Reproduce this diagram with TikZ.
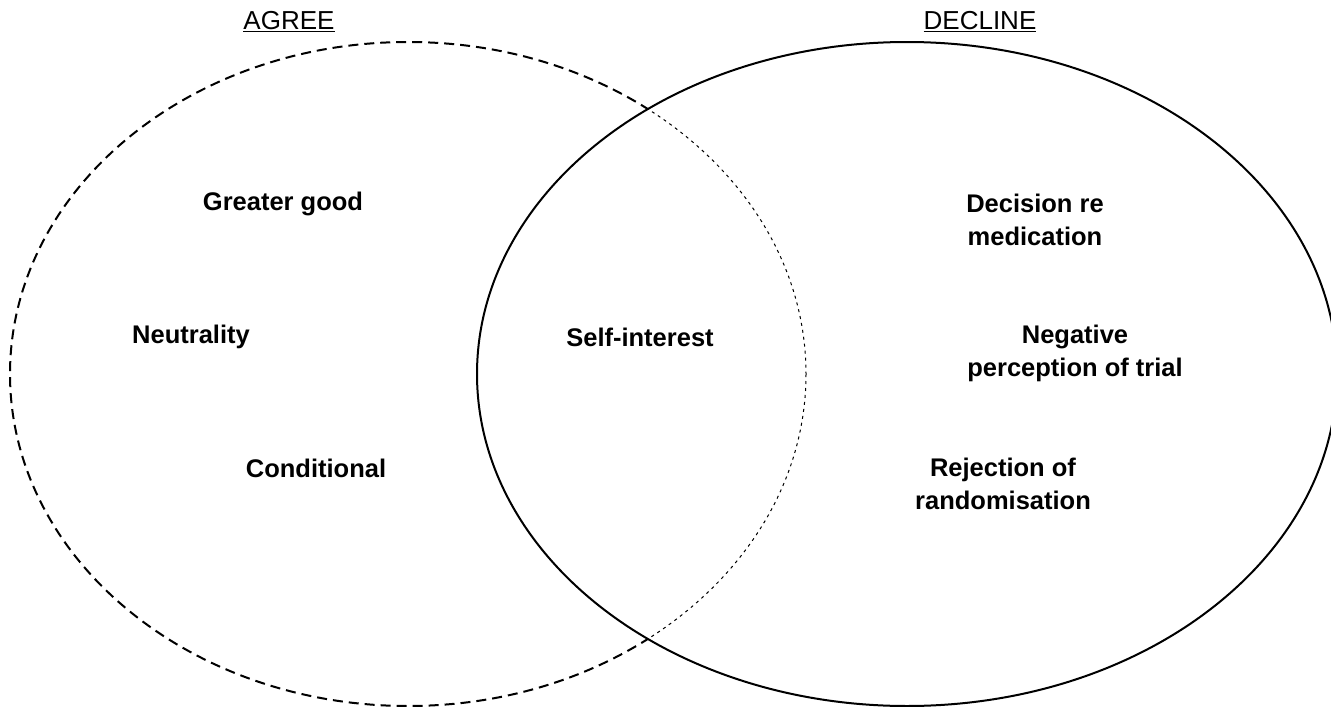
\documentclass[tikz,border=0pt]{standalone}
\usepackage{fontspec}
\setmainfont{Liberation Sans}
\usepackage{tikz}

\tikzset{
  lbl/.style={font=\fontsize{25.5}{33}\selectfont\bfseries, align=center},
  head/.style={font=\fontsize{26}{30}\selectfont},
}

\begin{document}
\begin{tikzpicture}[x=1pt,y=-1pt]
    \useasboundingbox (0,0) rectangle (1331,707);
    \clip (0,0) rectangle (1331,707);
    \coordinate (agreec) at (408,374);
    \coordinate (declinec) at (907,374);
    % decline set
    \draw[line width=2pt] (declinec) ellipse [x radius=430, y radius=332];
    % agree set, outside decline
    \begin{scope}[even odd rule]
    \clip (0,0) rectangle (1331,707) (declinec) ellipse [x radius=430, y radius=332];
    \draw[line width=2pt,dash pattern=on 10pt off 6pt] (agreec) ellipse [x radius=398, y radius=332];
    \end{scope}
    % agree set, inside decline
    \begin{scope}
    \clip (declinec) ellipse [x radius=430, y radius=332];
    \draw[line width=1pt,dash pattern=on 3pt off 4pt] (agreec) ellipse [x radius=398, y radius=332];
    \end{scope}
    \node[head] (agree) at (289,22) {\underline{AGREE}};
    \node[head] (decline) at (980,22) {\underline{DECLINE}};
    \node[lbl] (good) at (283,204) {Greater good};
    \node[lbl] (neutral) at (191,337) {Neutrality};
    \node[lbl] (cond) at (316,468) {Conditional};
    \node[lbl] (self) at (640,337) {Self-interest};
    \node[lbl] (medic) at (1035,220) {Decision re\\medication};
    \node[lbl] (negat) at (1075,353) {Negative\\perception of trial};
    \node[lbl] (random) at (1003,484) {Rejection of\\randomisation};
\end{tikzpicture}
\end{document}
